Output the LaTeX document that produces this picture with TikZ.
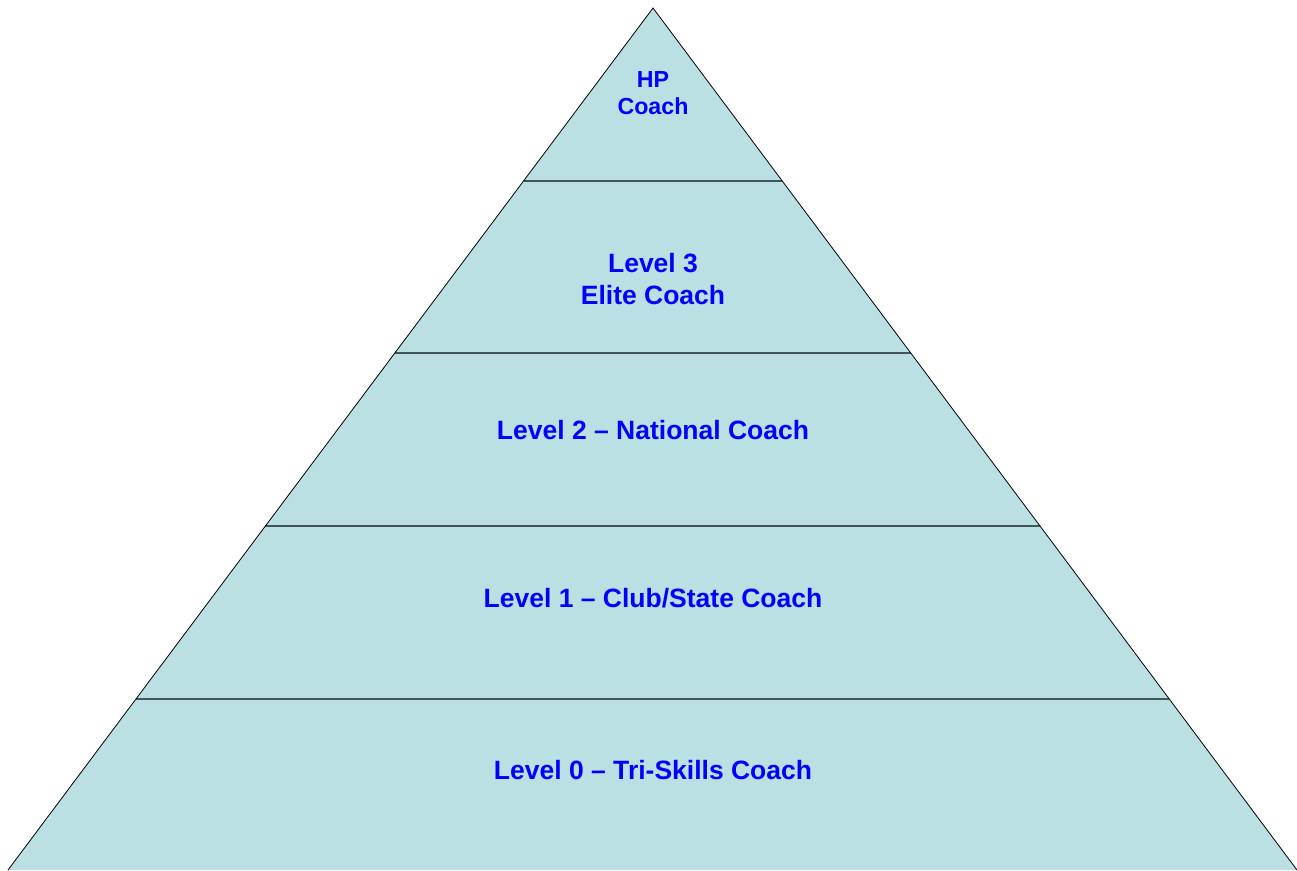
\documentclass[tikz,border=0pt]{standalone}
\usepackage{fontspec}
\setmainfont{Liberation Sans}
\definecolor{pyrfill}{RGB}{186,224,227}
\definecolor{bandline}{RGB}{66,86,89}
\definecolor{labelblue}{RGB}{0,0,255}
\begin{document}
\begin{tikzpicture}[x=1pt,y=-1pt,
  lbl/.style={font=\bfseries\fontsize{26.5}{32}\selectfont, text=labelblue, align=center, inner sep=0pt},
  toplbl/.style={font=\bfseries\fontsize{23.2}{27}\selectfont, text=labelblue, align=center, inner sep=0pt},
  band/.style={draw=bandline, line width=2.1pt},
  edge/.style={draw=black, line width=0.8pt}]
\useasboundingbox (0,0) rectangle (1297,870);
\begin{scope}
\clip (0,0) rectangle (1297,870);
\coordinate (apex) at (653,8);
\coordinate (bl) at (8,870);
\coordinate (br) at (1297,870);
\fill[pyrfill] (apex) -- (bl) -- (br) -- cycle;
% band separators
\foreach \yy/\nm in {181/a,353/b,526/c,699/d}{
  \path (apex) -- (bl) coordinate[pos={(\yy-8)/862}] (L\nm);
  \path (apex) -- (br) coordinate[pos={(\yy-8)/862}] (R\nm);
  \draw[band] (L\nm) -- (R\nm);
}
\draw[edge] (bl) -- (apex) -- (br);
\end{scope}
\node[toplbl] (hp) at (653,93) {HP\\Coach};
\node[lbl] (l3) at (653,279) {Level 3\\Elite Coach};
\node[lbl] (l2) at (653,430) {Level 2 -- National Coach};
\node[lbl] (l1) at (653,598) {Level 1 -- Club/State Coach};
\node[lbl] (l0) at (653,770) {Level 0 -- Tri-Skills Coach};
\end{tikzpicture}
\end{document}
